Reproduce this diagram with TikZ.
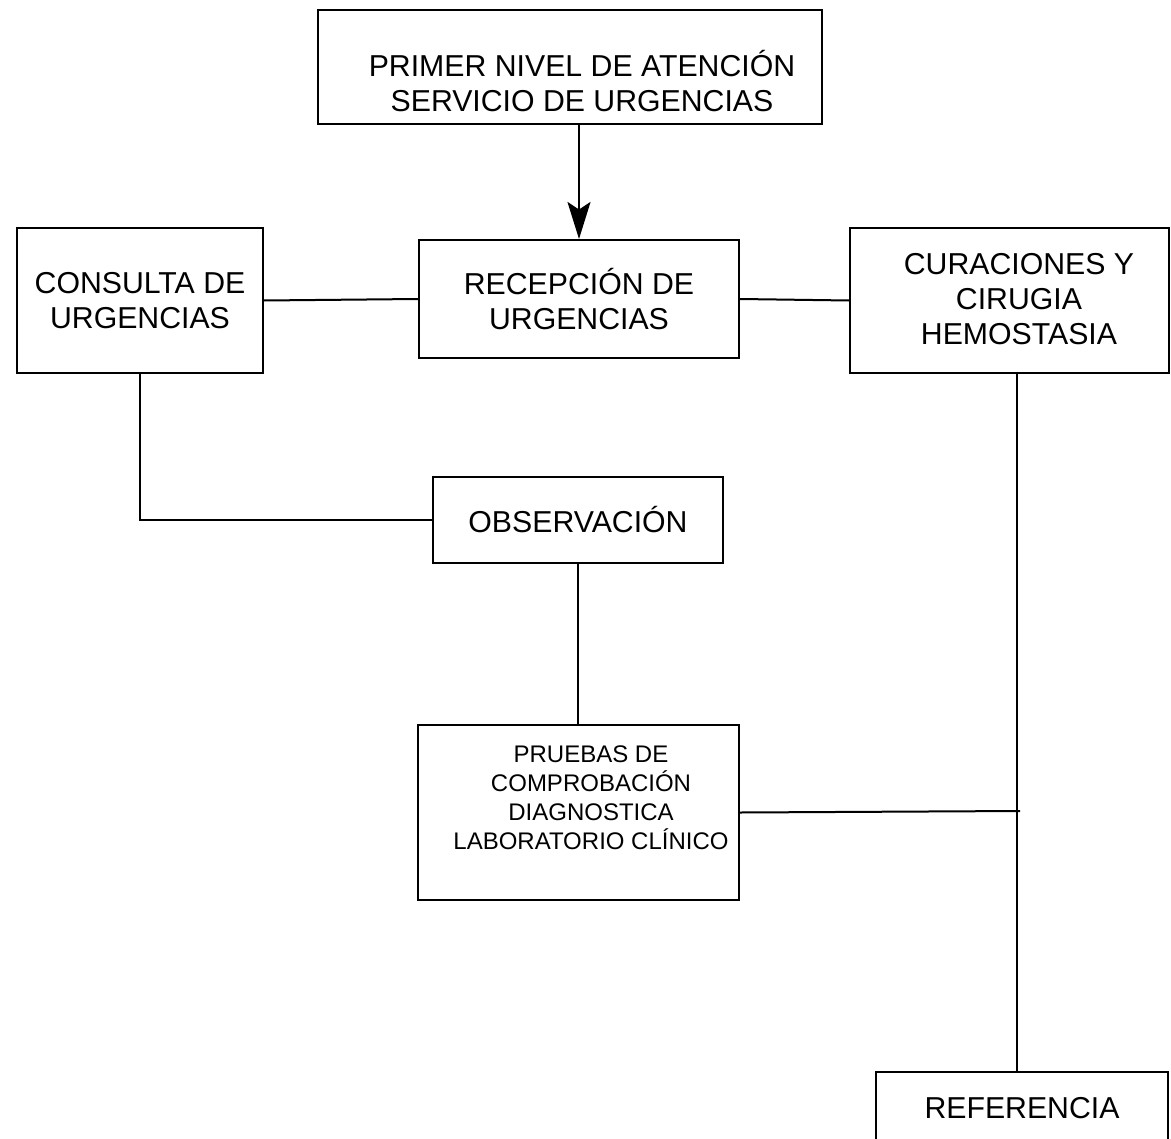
\documentclass[tikz,border=0pt]{standalone}
\usepackage{fontspec}
\setmainfont{Liberation Sans}
\usetikzlibrary{arrows.meta, positioning}

\tikzset{
  caja/.style={draw=black, line width=0.8pt, align=center, inner sep=0pt,
               font=\fontsize{12.1pt}{14pt}\selectfont},
  chica/.style={align=center, inner sep=0pt, font=\fontsize{9.6pt}{11.6pt}\selectfont},
  linea/.style={line width=0.8pt},
}

\begin{document}
\begin{tikzpicture}[x=0.4pt, y=-0.4pt]
        \useasboundingbox (0,0) rectangle (1171,1138);
        \clip (0,0) rectangle (1171,1138);
        % cajas
        \node[caja, minimum width=504*0.4pt, minimum height=114*0.4pt] (nivel) at (570, 67) {};
        \node[caja, draw=none] (niveltxt) at (582, 81)
          {PRIMER NIVEL DE ATENCIÓN\\SERVICIO DE URGENCIAS};
        \node[caja, minimum width=320*0.4pt, minimum height=118*0.4pt] (recep) at (579, 299)
          {RECEPCIÓN DE\\URGENCIAS};
        \node[caja, minimum width=246*0.4pt, minimum height=145*0.4pt] (consulta) at (140, 300.5)
          {CONSULTA DE\\URGENCIAS};
        \node[caja, minimum width=319*0.4pt, minimum height=145*0.4pt] (curac) at (1009.5, 300.5) {};
        \node[caja, draw=none] (curactxt) at (1019, 299)
          {CURACIONES Y\\CIRUGIA\\HEMOSTASIA};
        \node[caja, minimum width=290*0.4pt, minimum height=86*0.4pt] (obs) at (578, 520)
          {OBSERVACIÓN};
        \node[caja, minimum width=321*0.4pt, minimum height=175*0.4pt] (pruebas) at (578.5, 812.5) {};
        \node[chica] (pruebastxt) at (591, 798)
          {PRUEBAS DE\\COMPROBACIÓN\\DIAGNOSTICA\\LABORATORIO CLÍNICO};
        \node[caja, minimum width=292*0.4pt, minimum height=72*0.4pt] (refer) at (1022, 1108)
          {REFERENCIA};
        % conectores
        \coordinate (eje) at (1017, 811);
        \coordinate (cruce) at (1020, 811);
        \draw[linea, -{Stealth[length=14.8pt, width=9.2pt, inset=3pt]}]
          (recep.north |- nivel.south) -- (recep.north);
        \draw[linea] (consulta.east) -- (recep.west);
        \draw[linea] (recep.east) -- (curac.west);
        \draw[linea] (consulta.south) -- (consulta.south |- obs.west) -- (obs.west);
        \draw[linea] (obs.south) -- (obs.south |- pruebas.north);
        \draw[linea] (curac.south -| eje) -- (refer.north -| eje);
        \draw[linea] (pruebas.east) -- (cruce);
      \end{tikzpicture}
\end{document}
